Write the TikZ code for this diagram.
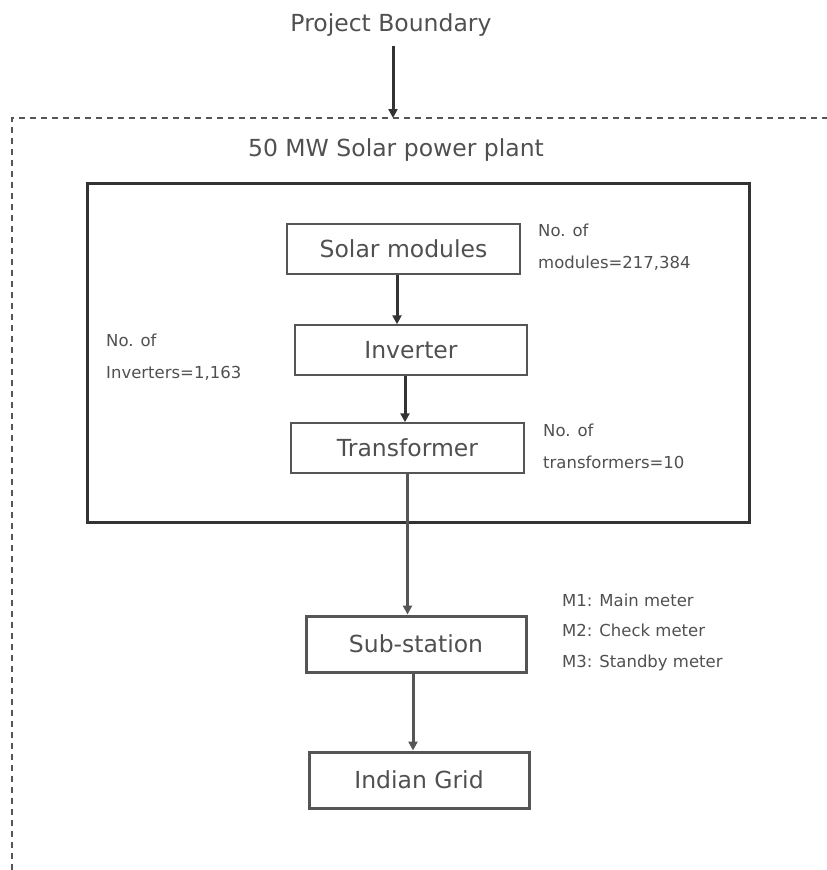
\documentclass[tikz,border=0pt]{standalone}
\usepackage{fontspec}
\setmainfont{DejaVu Sans}
\usetikzlibrary{arrows.meta}
\definecolor{txtgray}{HTML}{505050}
\definecolor{linegray}{HTML}{555555}
\definecolor{darkline}{HTML}{333333}
\tikzset{
  unitbox/.style={draw=linegray, line width=1.5pt, minimum width=233pt, minimum height=50pt, inner sep=0pt, text=txtgray, font=\fontsize{23.5}{28}\selectfont},
  endbox/.style={unitbox, line width=3pt, minimum width=220pt, minimum height=56pt},
  note/.style={anchor=west, align=left, inner sep=0pt, text=txtgray, font=\fontsize{16.5}{32}\selectfont},
  flow/.style={draw=darkline, line width=3pt, -{Triangle[length=9pt,width=9pt]}}
}
\begin{document}
\begin{tikzpicture}[x=1pt, y=-1pt]
			%%%%% START %%%%%
			\useasboundingbox (0, 0) rectangle (827, 870);
			
			\node[text=txtgray, font=\fontsize{23.5}{28}\selectfont] (pb) at (391, 25) {Project Boundary};
			\coordinate (btop) at (393, 118);
			\draw[flow] (pb.south -| btop) ++(0, 6) -- (btop);
			
			\draw[linegray, line width=2pt, dash pattern=on 6pt off 5pt] (12, 870) -- (12, 118) -- (827, 118);
			
			\node[text=txtgray, font=\fontsize{23.5}{28}\selectfont] (plant) at (396, 150) {50 MW Solar power plant};
			\draw[darkline, line width=3pt] (87, 183) rectangle (749, 522);
			
			\node[unitbox] (solar) at (403.5, 249) {Solar modules};
			\node[unitbox, minimum width=232pt] (inv) at (411, 350) {Inverter};
			\node[unitbox] (trafo) at (407.5, 448) {Transformer};
			\node[endbox] (sub) at (416, 644) {Sub-station};
			\node[endbox] (grid) at (419, 780) {Indian Grid};
			
			\draw[flow] ([xshift=-6.5pt]solar.south) -- ([xshift=-6.5pt]solar.south |- inv.north);
			\draw[flow] ([xshift=-6pt]inv.south) -- ([xshift=-6pt]inv.south |- trafo.north);
			\draw[flow, draw=linegray] (trafo.south) -- (trafo.south |- sub.north);
			\draw[flow, draw=linegray] ([xshift=-3pt]sub.south) -- ([xshift=-3pt]sub.south |- grid.north);
			
			\node[note] (nmod) at (538, 247) {No. of\\modules=217,384};
			\node[note] (ninv) at (106, 357) {No. of\\Inverters=1,163};
			\node[note] (ntrafo) at (543, 446) {No. of\\transformers=10};
			\node[note, font=\fontsize{16.5}{30.5}\selectfont] (nmeter) at (562, 632) {M1: Main meter\\M2: Check meter\\M3: Standby meter};
			%%%%% END %%%%%
		\end{tikzpicture}
\end{document}
